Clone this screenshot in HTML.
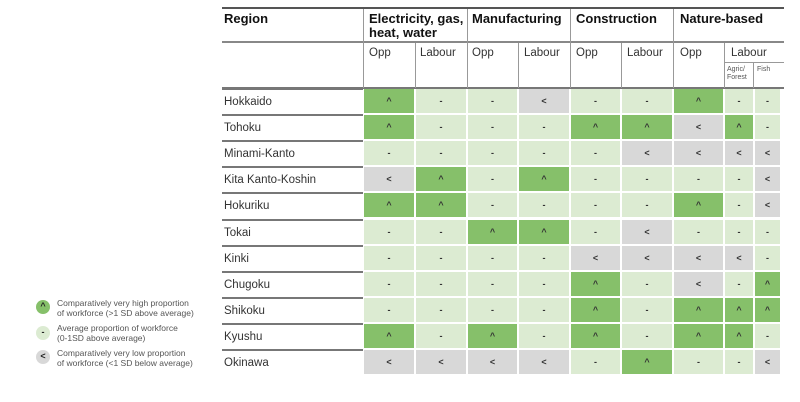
<!DOCTYPE html>
<html><head><meta charset="utf-8"><style>
body{margin:0;width:800px;height:402px;background:#fff;font-family:"Liberation Sans",sans-serif;position:relative;overflow:hidden}
.a{position:absolute}
.h{font-weight:bold;font-size:13px;color:#111;line-height:14px}
.s{font-size:11.5px;color:#333}
.cell{position:absolute;display:flex;align-items:center;justify-content:center;font-size:9px;font-weight:bold;color:#333}
.rl{position:absolute;left:222px;width:141px;font-size:11.5px;color:#333;border-top:2px solid #777;box-sizing:border-box;padding-left:2px;display:flex;align-items:center}
.vl{position:absolute;width:1px;background:#999}
.lg{position:absolute;left:36px;width:14px;height:14px;border-radius:50%;font-size:9px;font-weight:bold;text-align:center;line-height:13px;color:#222}
.lt{position:absolute;left:57px;font-size:8.5px;color:#555;line-height:10px}
</style></head><body>
<div class="a" style="left:222px;top:7px;width:562px;height:2px;background:#555"></div>
<div class="a" style="left:222px;top:41px;width:562px;height:2px;background:#888"></div>
<div class="a" style="left:222px;top:87px;width:562px;height:2px;background:#777"></div>
<div class="a" style="left:725px;top:62px;width:59px;height:1px;background:#999"></div>
<div class="vl" style="left:363px;top:9px;height:79px"></div>
<div class="vl" style="left:467px;top:9px;height:79px"></div>
<div class="vl" style="left:570px;top:9px;height:79px"></div>
<div class="vl" style="left:673px;top:9px;height:79px"></div>
<div class="vl" style="left:415px;top:43px;height:45px"></div>
<div class="vl" style="left:518px;top:43px;height:45px"></div>
<div class="vl" style="left:621px;top:43px;height:45px"></div>
<div class="vl" style="left:724px;top:43px;height:45px"></div>
<div class="vl" style="left:753px;top:63px;height:25px"></div>
<div class="a h" style="left:224px;top:12px">Region</div>
<div class="a h" style="left:369px;top:12px;width:100px">Electricity, gas, heat, water</div>
<div class="a h" style="left:472px;top:12px">Manufacturing</div>
<div class="a h" style="left:576px;top:12px">Construction</div>
<div class="a h" style="left:680px;top:12px">Nature-based</div>
<div class="a s" style="left:369px;top:47px">Opp</div>
<div class="a s" style="left:420px;top:47px">Labour</div>
<div class="a s" style="left:472px;top:47px">Opp</div>
<div class="a s" style="left:524px;top:47px">Labour</div>
<div class="a s" style="left:576px;top:47px">Opp</div>
<div class="a s" style="left:627px;top:47px">Labour</div>
<div class="a s" style="left:680px;top:47px">Opp</div>
<div class="a s" style="left:731px;top:47px">Labour</div>
<div class="a" style="left:727px;top:66px;font-size:7px;color:#555;line-height:8px">Agric/<br>Forest</div>
<div class="a" style="left:757px;top:66px;font-size:7px;color:#555">Fish</div>

<div class="lg" style="top:300px;background:#86c06a">^</div>
<div class="lt" style="top:298px">Comparatively very high proportion<br>of workforce (&gt;1 SD above average)</div>
<div class="lg" style="top:326px;background:#dcebd2">-</div>
<div class="lt" style="top:323px">Average proportion of workforce<br>(0-1SD above average)</div>
<div class="lg" style="top:350px;background:#d8d8d8">&lt;</div>
<div class="lt" style="top:348px">Comparatively very low proportion<br>of workforce (&lt;1 SD below average)</div>

<div id="grid"></div>
<script>
const regions=["Hokkaido","Tohoku","Minami-Kanto","Kita Kanto-Koshin","Hokuriku","Tokai","Kinki","Chugoku","Shikoku","Kyushu","Okinawa"];
const columns=["elec-opp","elec-labour","manuf-opp","manuf-labour","constr-opp","constr-labour","nature-opp","nature-agric","nature-fish"];
const values=[
"^--<--^--",
"^---^^<^-",
"-----<<<<",
"<^-^----<",
"^^----^-<",
"--^^-<---",
"----<<<<-",
"----^-<-^",
"----^-^^^",
"^-^-^-^^-",
"<<<<-^--<"];
const colEdges=[364,416,468,519,571,622,674,725,755,782];
const top0=89,rowH=26.1;
const colors={"^":"#86c06a","-":"#dcebd2","<":"#d8d8d8"};
const g=document.getElementById('grid');
regions.forEach((r,i)=>{
  const y=top0+i*rowH;
  const l=document.createElement('div');
  l.className='rl';
  l.style.top=(y-1)+'px';l.style.height=(rowH)+'px';
  l.textContent=r;
  
  
  g.appendChild(l);
  columns.forEach((c,j)=>{
    const v=values[i][j];
    const d=document.createElement('div');
    d.className='cell';
    d.style.left=colEdges[j]+'px';
    d.style.top=y+'px';
    d.style.width=(colEdges[j+1]-colEdges[j]-2)+'px';
    d.style.height=(rowH-2)+'px';
    d.style.background=colors[v];
    d.textContent=v;
    
    
    g.appendChild(d);
  });
});
</script>
</body></html>
